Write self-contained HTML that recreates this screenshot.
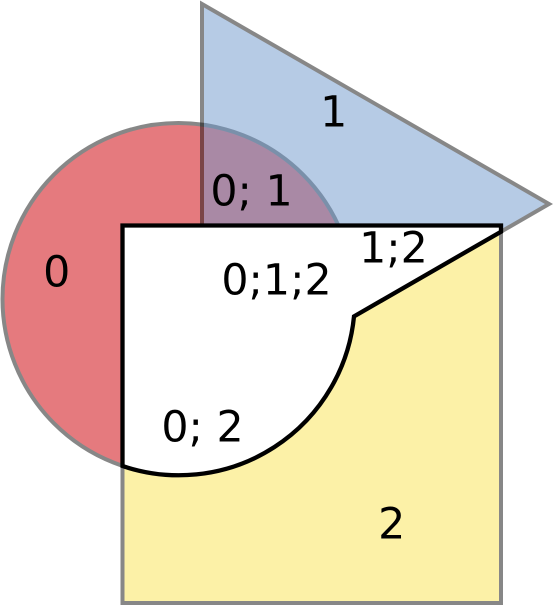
<!DOCTYPE html>
<html>
<head>
<meta charset="utf-8">
<title>Three-set Venn diagram</title>
<style>
html,body{margin:0;padding:0;background:#fff;width:553px;height:606px;overflow:hidden}
svg{display:block}
text{font-family:"DejaVu Sans",sans-serif;font-size:42.7px;fill:#000;text-anchor:middle}
</style>
</head>
<body>
<svg width="553" height="606" viewBox="0 0 553 606">
  <rect x="0" y="0" width="553" height="606" fill="#fff"/>
  <circle cx="178.5" cy="299" r="176" fill="rgb(212,35,42)" stroke="#393939" stroke-width="4" opacity="0.6"/>
  <polygon points="202,4 549,204 202,404" fill="rgb(111,153,205)" stroke="#111" stroke-width="4" stroke-linejoin="miter" opacity="0.5"/>
  <rect x="122.5" y="225.5" width="378.5" height="377.5" fill="rgb(251,229,81)" stroke="#111" stroke-width="4" opacity="0.5"/>
  <path d="M122.5,225.5 H501 V231.7 L354,316.4 A176,176 0 0 1 122.5,466 Z" fill="#fff" stroke="#000" stroke-width="4.3" stroke-linejoin="miter"/>
  <text x="56.7" y="286.7">0</text>
  <text x="333.7" y="126.7">1</text>
  <text x="391.7" y="538.7">2</text>
  <text x="251.5" y="205.7">0; 1</text>
  <text x="276.5" y="294.7">0;1;2</text>
  <text x="393.5" y="262.7">1;2</text>
  <text x="202.5" y="441.7">0; 2</text>
</svg>
</body>
</html>
